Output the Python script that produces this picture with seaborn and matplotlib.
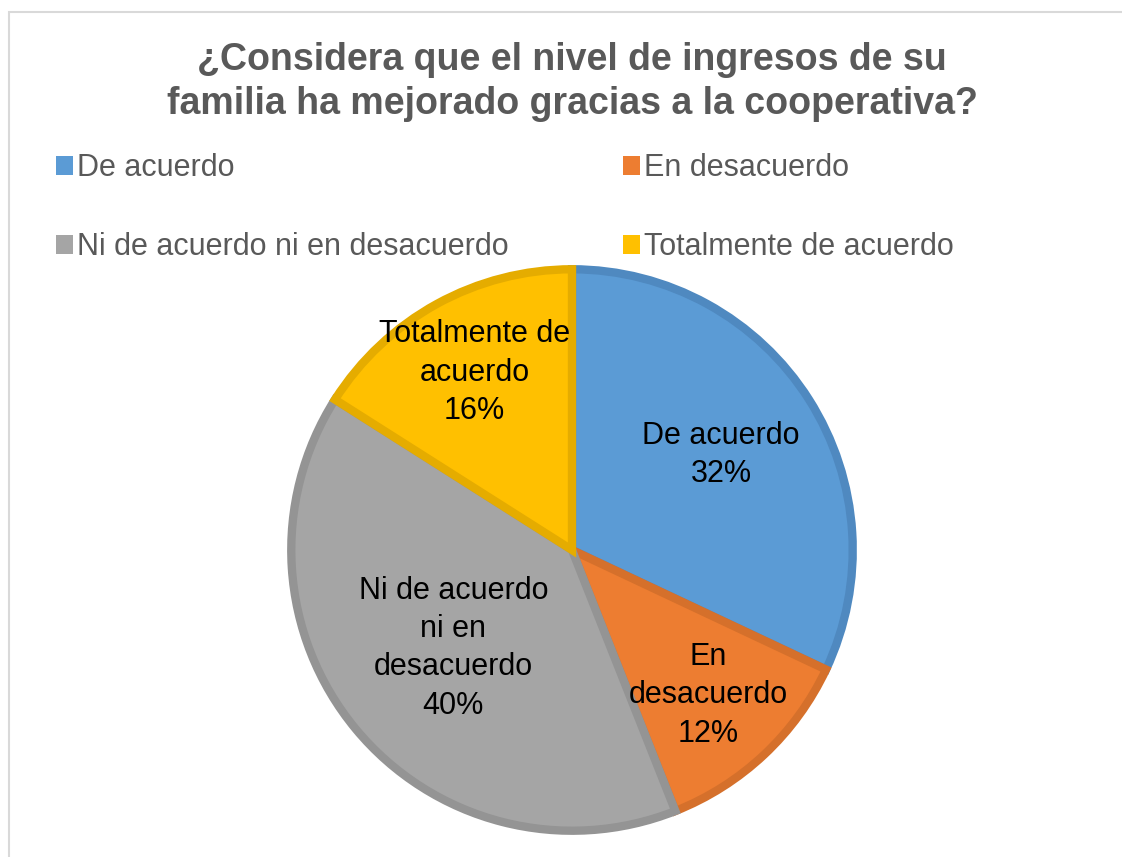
import numpy as np
import matplotlib
matplotlib.use("Agg")
import matplotlib.pyplot as plt
from matplotlib.patches import Patch, Rectangle
import seaborn as sns

categories = ["De acuerdo", "En desacuerdo", "Ni de acuerdo ni en desacuerdo", "Totalmente de acuerdo"]
percentages = [32, 12, 40, 16]
slice_labels = ["De acuerdo", "En\ndesacuerdo", "Ni de acuerdo\nni en\ndesacuerdo", "Totalmente de\nacuerdo"]
title = "¿Considera que el nivel de ingresos de su\nfamilia ha mejorado gracias a la cooperativa?"

fill_colors = ["#5B9BD5", "#ED7D31", "#A5A5A5", "#FFC000"]
edge_colors = ["#4F89C0", "#D5702B", "#949494", "#E5AC00"]
label_dist = [0.62, 0.70, 0.54, 0.71]

sns.set_theme(style="white")
plt.rcParams["font.family"] = ["Liberation Sans", "DejaVu Sans"]

W, H = 1122, 857
fig = plt.figure(figsize=(W / 100, H / 100), dpi=100)
fig.patch.set_facecolor("white")

# pie axes, centre ~ (572, 550) px, radius ~285 px
cx, cy, r = 572, 550, 285
ax = fig.add_axes([(cx - r) / W, (H - cy - r) / H, 2 * r / W, 2 * r / H])
wedges, _ = ax.pie(percentages, colors=fill_colors, startangle=90, counterclock=False,
                   radius=0.985, wedgeprops=dict(linewidth=6))
for w, ec in zip(wedges, edge_colors):
    w.set_edgecolor(ec)
    w.set_joinstyle("miter")

for w, lab, p, d in zip(wedges, slice_labels, percentages, label_dist):
    ang = np.deg2rad((w.theta1 + w.theta2) / 2)
    ax.text(d * np.cos(ang), d * np.sin(ang), f"{lab}\n{p}%", ha="center", va="center",
            fontsize=22, color="black", linespacing=1.36)
ax.set_xlim(-1, 1)
ax.set_ylim(-1, 1)
ax.set_aspect("equal")
ax.axis("off")

fig.text(cx / W, 1 - 82 / H, title, ha="center", va="center", fontsize=27,
         fontweight="bold", color="#595959", linespacing=1.3)

handles = [Patch(facecolor=c, edgecolor="none") for c in fill_colors]
order = [0, 2, 1, 3]
leg = fig.legend([handles[i] for i in order], [categories[i] for i in order], ncol=2,
                 loc="upper left", bbox_to_anchor=(56 / W, 1 - 153 / H), frameon=False,
                 fontsize=22, handlelength=0.56, handleheight=0.56, handletextpad=0.12,
                 columnspacing=3.75, labelspacing=1.62, borderaxespad=0, borderpad=0)
for t in leg.get_texts():
    t.set_color("#595959")

fig.patches.append(Rectangle((9 / W, -0.02), 1.1, (H - 12) / H + 0.02, transform=fig.transFigure,
                             fill=False, edgecolor="#D9D9D9", linewidth=1.5))

fig.savefig("out.png", dpi=100, facecolor="white")
